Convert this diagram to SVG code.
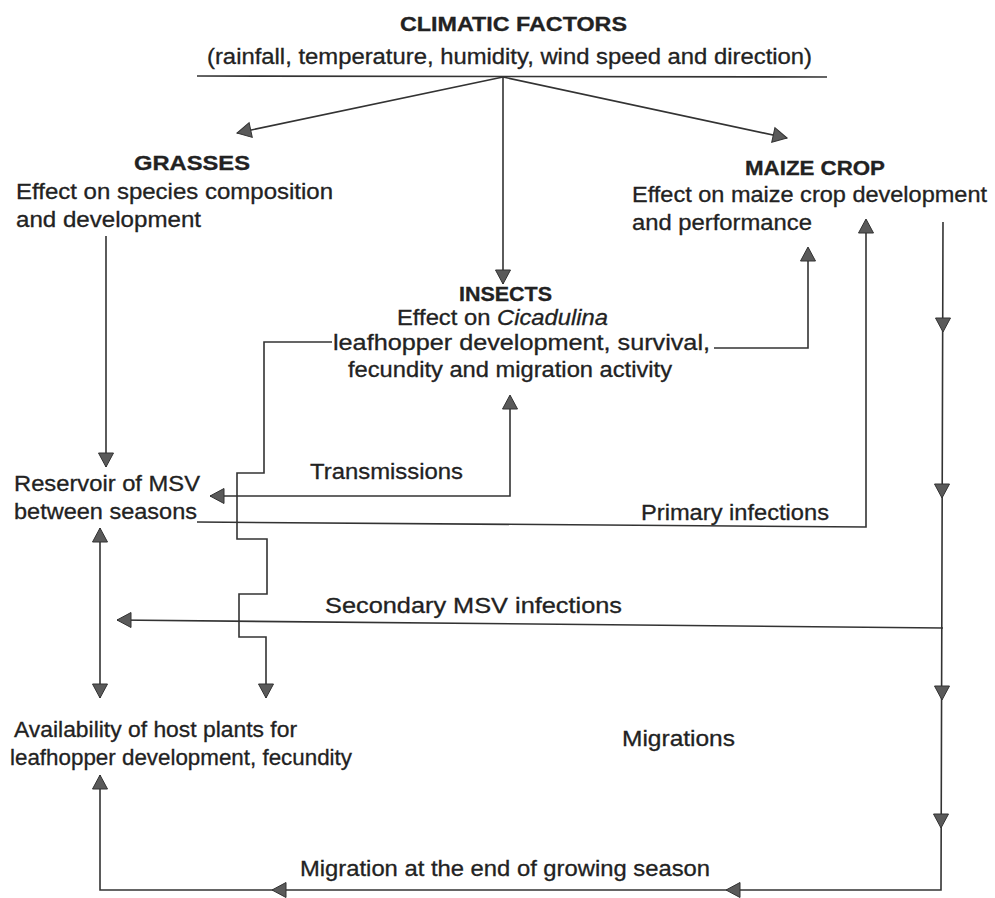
<svg xmlns="http://www.w3.org/2000/svg" width="995" height="898" viewBox="0 0 995 898">
<style>
text{font-family:"Liberation Sans",Arial,Helvetica,sans-serif;font-size:22px;fill:#222;stroke:#222;stroke-width:0.3}
.b{font-weight:bold;font-size:20px}
.ln{fill:none;stroke:#333;stroke-width:1.6}
.head{fill:#5a5a5a;stroke:#333;stroke-width:1}
</style>
<defs>
<path id="ah" class="head" d="M0,0 L-14,-7.5 L-14,7.5 Z"/>
</defs>
<rect width="995" height="898" fill="#fff"/>

<g id="climatic">
<text class="b" x="400" y="31" textLength="227" lengthAdjust="spacingAndGlyphs">CLIMATIC FACTORS</text>
<text x="207" y="64" textLength="605" lengthAdjust="spacingAndGlyphs">(rainfall, temperature, humidity, wind speed and direction)</text>
</g>

<g id="grasses">
<text class="b" x="134" y="170" textLength="116" lengthAdjust="spacingAndGlyphs">GRASSES</text>
<text x="16" y="199" textLength="317" lengthAdjust="spacingAndGlyphs">Effect on species composition</text>
<text x="16" y="227" textLength="185" lengthAdjust="spacingAndGlyphs">and development</text>
</g>

<g id="maize">
<text class="b" x="745" y="175" textLength="140" lengthAdjust="spacingAndGlyphs">MAIZE CROP</text>
<text x="632" y="202" textLength="355" lengthAdjust="spacingAndGlyphs">Effect on maize crop development</text>
<text x="632" y="230" textLength="180" lengthAdjust="spacingAndGlyphs">and performance</text>
</g>

<g id="insects">
<text class="b" x="459" y="301" textLength="93" lengthAdjust="spacingAndGlyphs">INSECTS</text>
<text x="397" y="325" textLength="211" lengthAdjust="spacingAndGlyphs">Effect on <tspan font-style="italic">Cicadulina</tspan></text>
<text x="333" y="350" textLength="377" lengthAdjust="spacingAndGlyphs">leafhopper development, survival,</text>
<text x="348" y="377" textLength="324" lengthAdjust="spacingAndGlyphs">fecundity and migration activity</text>
</g>

<g id="reservoir">
<text x="14" y="491" textLength="186" lengthAdjust="spacingAndGlyphs">Reservoir of MSV</text>
<text x="14" y="519" textLength="183" lengthAdjust="spacingAndGlyphs">between seasons</text>
</g>

<g id="hostplants">
<text x="14" y="737" textLength="283" lengthAdjust="spacingAndGlyphs">Availability of host plants for</text>
<text x="10" y="765" textLength="342" lengthAdjust="spacingAndGlyphs">leafhopper development, fecundity</text>
</g>

<g id="connectors">
<line class="ln" x1="197" y1="76" x2="827" y2="77"/>
<path class="ln" d="M503,77 L237,133"/>
<path class="ln" d="M503,77 L787,138"/>
<path class="ln" d="M503,77 L503,284"/>
<path class="ln" d="M106,236 L106,467"/>
<path class="ln" d="M714,348 L808,348 L808,248"/>
<path class="ln" d="M332,342 L264,342 L264,473 L237,473 L237,539 L267,539 L267,594 L239,594 L239,637 L266,637 L266,698"/>
<path class="ln" d="M510,396 L510,496 L210,496"/>
<path class="ln" d="M197,522 L866,527 L866,220"/>
<path class="ln" d="M943,222 L941,890 L100,890 L100,775"/>
<path class="ln" d="M943,628 L117,620"/>
<path class="ln" d="M100,528 L100,698"/>

<use href="#ah" transform="translate(237,133) rotate(167.9)"/>
<use href="#ah" transform="translate(787,138) rotate(12.3)"/>
<use href="#ah" transform="translate(503,284) rotate(90)"/>
<use href="#ah" transform="translate(106,467) rotate(90)"/>
<use href="#ah" transform="translate(808,247) rotate(-90)"/>
<use href="#ah" transform="translate(266,698) rotate(90)"/>
<use href="#ah" transform="translate(510,395) rotate(-90)"/>
<use href="#ah" transform="translate(210,496) rotate(180)"/>
<use href="#ah" transform="translate(866,219) rotate(-90)"/>
<use href="#ah" transform="translate(943,332) rotate(90)"/>
<use href="#ah" transform="translate(942,498) rotate(90)"/>
<use href="#ah" transform="translate(942,700) rotate(90)"/>
<use href="#ah" transform="translate(941,828) rotate(90)"/>
<use href="#ah" transform="translate(726,890) rotate(180)"/>
<use href="#ah" transform="translate(272,890) rotate(180)"/>
<use href="#ah" transform="translate(100,775) rotate(-90)"/>
<use href="#ah" transform="translate(117,620) rotate(180)"/>
<use href="#ah" transform="translate(100,528) rotate(-90)"/>
<use href="#ah" transform="translate(100,698) rotate(90)"/>

<text x="310" y="479" textLength="153" lengthAdjust="spacingAndGlyphs">Transmissions</text>
<text x="641" y="520" textLength="188" lengthAdjust="spacingAndGlyphs">Primary infections</text>
<text x="325" y="613" textLength="297" lengthAdjust="spacingAndGlyphs">Secondary MSV infections</text>
<text x="622" y="746" textLength="113" lengthAdjust="spacingAndGlyphs">Migrations</text>
<text x="300" y="876" textLength="410" lengthAdjust="spacingAndGlyphs">Migration at the end of growing season</text>
</g>
</svg>
